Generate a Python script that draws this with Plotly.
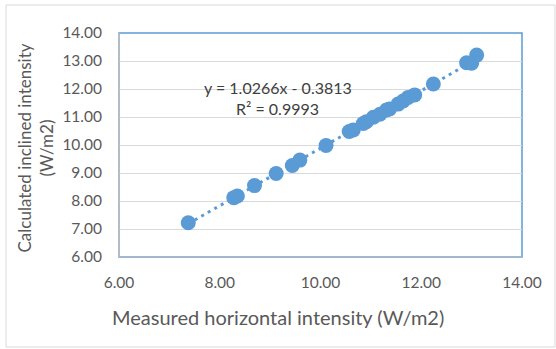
import plotly.graph_objects as go

# Measured horizontal intensity (W/m2)
measured = [7.375, 8.28, 8.35, 8.69, 9.12, 9.44, 9.59, 10.11, 10.57, 10.65,
            10.85, 10.91, 11.05, 11.18, 11.31, 11.37, 11.54, 11.64, 11.74, 11.87,
            12.24, 12.90, 13.00, 13.10]
# Calculated inclined intensity (W/m2)
calculated = [7.225, 8.12, 8.18, 8.55, 8.98, 9.27, 9.46, 9.98, 10.48, 10.54,
              10.77, 10.83, 10.99, 11.10, 11.25, 11.29, 11.46, 11.57, 11.70, 11.79,
              12.18, 12.94, 12.92, 13.21]

slope = 1.0266
intercept = -0.3813
trend_x = [min(measured), max(measured)]
trend_y = [slope * v + intercept for v in trend_x]

x_ticks = [6, 8, 10, 12, 14]
y_ticks = [6, 7, 8, 9, 10, 11, 12, 13, 14]

blue = "#5B9BD5"
grey_text = "#595959"
font_family = "Lato, 'Open Sans', sans-serif"

fig = go.Figure()
fig.add_trace(go.Scatter(x=measured, y=calculated, mode="markers",
                         marker=dict(color=blue, size=15, line=dict(width=0)),
                         showlegend=False, hoverinfo="skip"))
fig.add_trace(go.Scatter(x=trend_x, y=trend_y, mode="lines",
                         line=dict(color=blue, width=3, dash="3px,4.5px"),
                         showlegend=False, hoverinfo="skip"))

L, R, T, B = 119, 34, 33, 92
W, H = 556, 349
pw, ph = W - L - R, H - T - B

def px_x(p):
    return (p - L) / pw

def px_y(p):
    return (H - B - p) / ph

fig.update_layout(
    width=W, height=H,
    margin=dict(l=L, r=R, t=T, b=B, autoexpand=False),
    paper_bgcolor="white", plot_bgcolor="white",
    font=dict(family=font_family, color=grey_text),
    xaxis=dict(range=[6, 14], tickvals=x_ticks, ticktext=[f"{v:.2f}" for v in x_ticks],
               showgrid=False, zeroline=False, showline=False, automargin=False,
               tickfont=dict(size=15.5, color=grey_text), ticks="", ticklabelstandoff=14),
    yaxis=dict(range=[6, 14], tickvals=y_ticks, ticktext=[f"{v:.2f}" for v in y_ticks],
               showgrid=True, gridcolor="#D9D9D9", gridwidth=1.3, zeroline=False, showline=False,
               automargin=False,
               tickfont=dict(size=15.5, color=grey_text), ticks="", ticklabelstandoff=16),
    shapes=[
        # outer chart border
        dict(type="rect", xref="paper", yref="paper",
             x0=px_x(6), x1=px_x(555), y0=px_y(347), y1=px_y(5),
             line=dict(color="#D9D9D9", width=1), layer="below"),
        # plot area border (blue)
        dict(type="rect", xref="paper", yref="paper", x0=0, x1=1, y0=0, y1=1,
             line=dict(color=blue, width=1.5), layer="below"),
        # left and bottom axis lines (grey)
        dict(type="line", xref="paper", yref="paper", x0=0, x1=0, y0=0, y1=1,
             line=dict(color="#BFBFBF", width=1.5)),
        dict(type="line", xref="paper", yref="paper", x0=0, x1=1, y0=0, y1=0,
             line=dict(color="#ADB9CA", width=1.5)),
    ],
    annotations=[
        dict(text="y = 1.0266x - 0.3813", xref="x", yref="y", x=9.156, y=12.07,
             showarrow=False, font=dict(size=16, color="#404040")),
        dict(text="R² = 0.9993", xref="x", yref="y", x=9.156, y=11.29,
             showarrow=False, font=dict(size=16, color="#404040")),
        dict(text="Measured horizontal intensity (W/m2)", xref="paper", yref="paper",
             x=px_x(278), y=px_y(317), xanchor="center", yanchor="middle", showarrow=False,
             font=dict(size=20, color=grey_text)),
        dict(text="Calculated inclined intensity<br>(W/m2)", xref="paper", yref="paper",
             x=px_x(34.5), y=px_y(148), xanchor="center", yanchor="middle",
             showarrow=False, textangle=-90,
             font=dict(size=17, color=grey_text)),
    ],
)

fig.write_html("out.html", config={"displayModeBar": False},
               post_script="document.body.style.margin='0';")
